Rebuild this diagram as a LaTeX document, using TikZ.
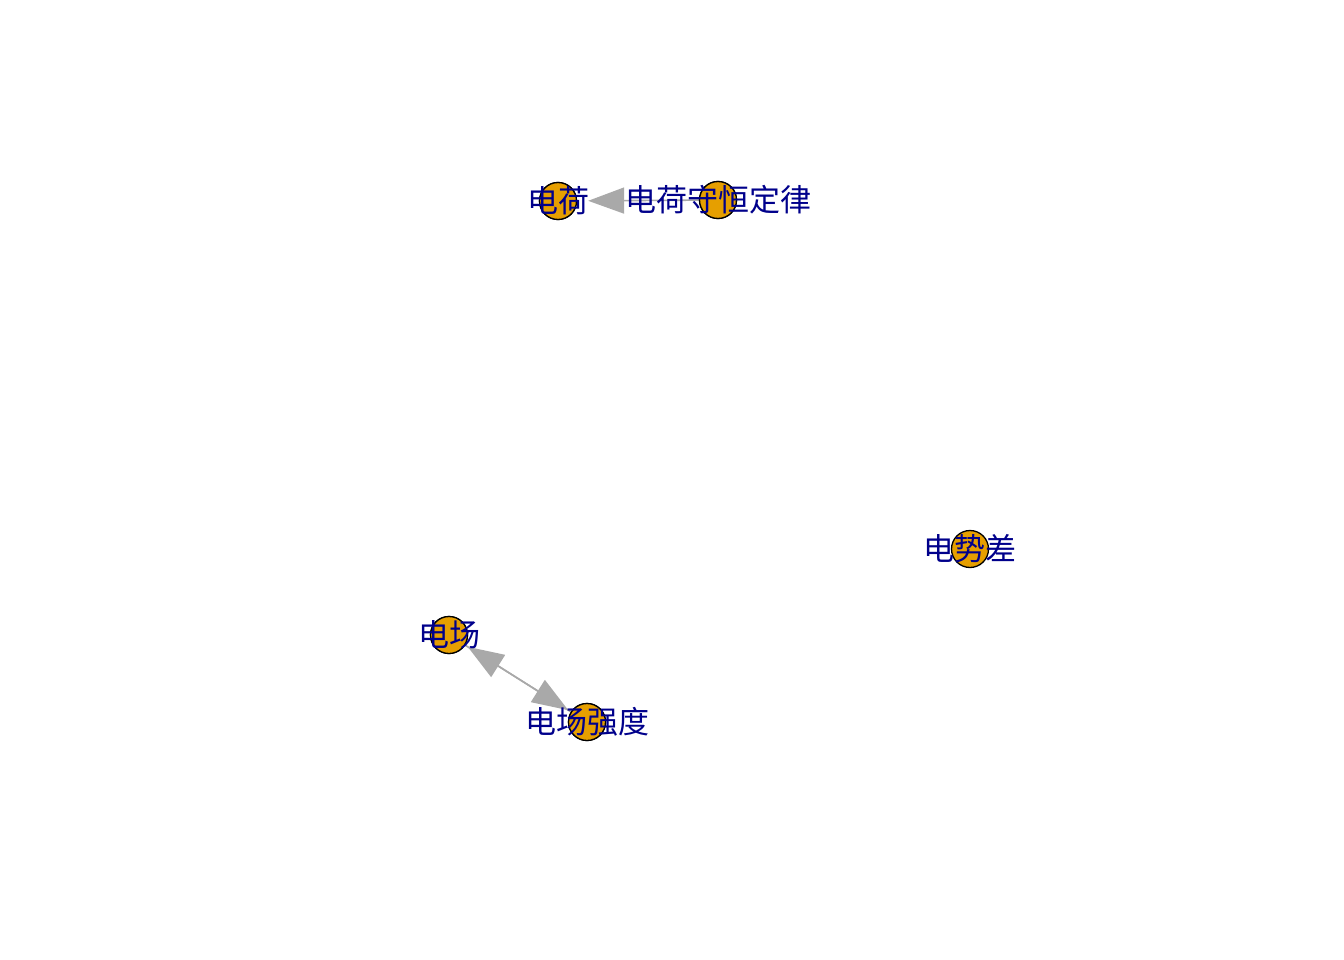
\documentclass[tikz,border=0pt]{standalone}
\usepackage{fontspec}
\newfontfamily\cjk{Noto Sans CJK SC}
\usetikzlibrary{arrows.meta}
\definecolor{vfill}{HTML}{E69F00}
\definecolor{lblue}{HTML}{00008B}
\definecolor{egray}{HTML}{A9A9A9}
\begin{document}
\begin{tikzpicture}[x=1pt,y=-1pt,
  vtx/.style={circle,draw=black,line width=1.3pt,fill=vfill,minimum size=37pt,inner sep=0pt},
  lbl/.style={text=lblue,font=\cjk\fontsize{31}{31}\selectfont,inner sep=0pt},
  edge/.style={draw=egray,line width=1.6pt,-{Triangle[length=36pt,width=26pt]}}]
\useasboundingbox (0,0) rectangle (1344,960);
\node[vtx] (q) at (558,201) {};
\node[vtx] (law) at (718,200) {};
\node[vtx] (dv) at (970,549) {};
\node[vtx] (e) at (449,635) {};
\node[vtx] (es) at (587,722) {};
\draw[edge,shorten >=11pt] (law) -- (q);
\draw[edge,shorten >=3pt] (es) -- (e);
\draw[edge,shorten >=3pt] (e) -- (es);
\node[vtx] at (q) {};
\node[vtx] at (law) {};
\node[vtx] at (e) {};
\node[vtx] at (es) {};
\node[lbl] (ql) at (q) {电荷};
\node[lbl] (lawl) at (law) {电荷守恒定律};
\node[lbl] (dvl) at (dv) {电势差};
\node[lbl] (el) at (e) {电场};
\node[lbl] (esl) at (es) {电场强度};
\end{tikzpicture}
\end{document}
